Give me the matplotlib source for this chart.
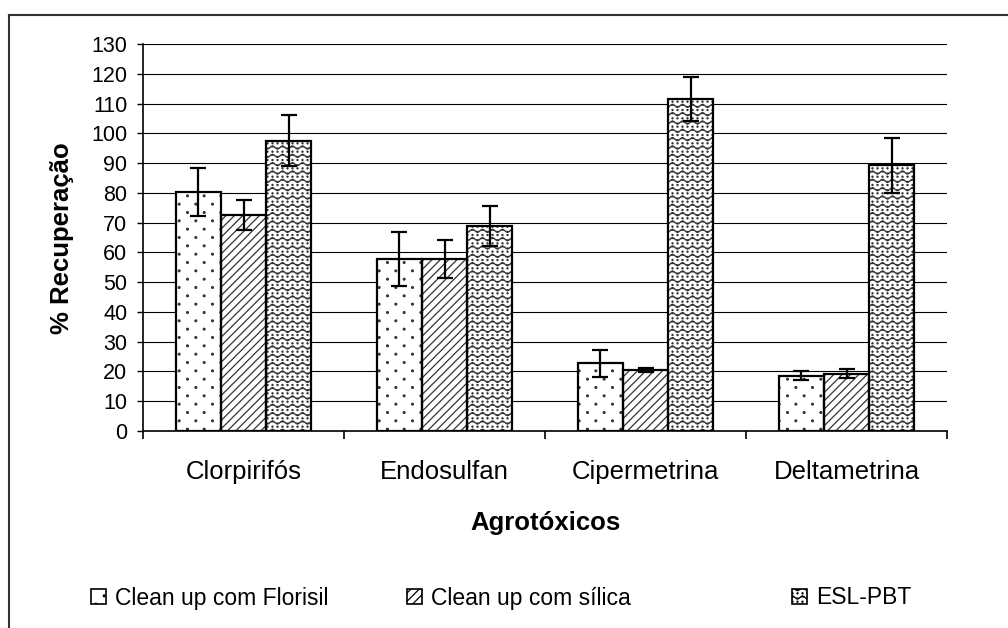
import warnings
import numpy as np
import matplotlib
matplotlib.use('Agg')
import matplotlib.pyplot as plt
import matplotlib.hatch as mhatch
from matplotlib.patches import Patch
from matplotlib.lines import Line2D
from matplotlib.path import Path

warnings.filterwarnings('ignore')

# data
categories = ['Clorpirifós', 'Endosulfan', 'Cipermetrina', 'Deltametrina']
series = ['Clean up com Florisil', 'Clean up com sílica', 'ESL-PBT']
florisil = [80.3, 57.7, 22.7, 18.5]
florisil_err = [8.0, 9.0, 4.5, 1.5]
silica = [72.5, 57.7, 20.5, 19.3]
silica_err = [5.0, 6.4, 0.7, 1.5]
esl = [97.5, 68.9, 111.6, 89.3]
esl_err = [8.5, 6.8, 7.3, 9.2]
yticks = list(range(0, 131, 10))

circ = Path.unit_circle()


def dot_block(centers, r):
    # filled little circles for a hatch tile
    v = np.concatenate([circ.vertices * r + c for c in centers])
    c = np.concatenate([circ.codes for _ in centers])
    return v, c


class SparseDots(mhatch.HatchPatternBase):
    # staggered dots, ':' in a hatch string
    def __init__(self, hatch, density):
        self.ncol = hatch.count(':') * density
        self.nrow = 2 * self.ncol
        self.num_vertices = self.ncol * self.nrow * len(circ.vertices)

    def set_vertices_and_codes(self, vertices, codes):
        cen = []
        for i in range(self.nrow):
            for j in range(self.ncol):
                cen.append(((j + 0.25 + 0.5 * (i % 2)) / self.ncol, (i + 0.5) / self.nrow))
        v, c = dot_block(cen, 0.009)
        vertices[:] = v
        codes[:] = c


class WaveHatch(mhatch.HatchPatternBase):
    # wavy lines with dotted rows between, '~' in a hatch string
    def __init__(self, hatch, density):
        self.num_rows = hatch.count('~') * density
        self.n_seg = 80
        self.n_dot = 20
        self.num_vertices = self.num_rows * (self.n_seg + 1) + self.num_rows * self.n_dot * len(circ.vertices)

    def set_vertices_and_codes(self, vertices, codes):
        t = np.linspace(0, 1, self.n_seg + 1)
        w = 0.016 * np.sin(2 * np.pi * 10 * t)
        n = self.n_seg + 1
        for i in range(self.num_rows):
            y0 = (i + 0.3) / self.num_rows
            vertices[i*n:(i+1)*n, 0] = t
            vertices[i*n:(i+1)*n, 1] = y0 + w
            codes[i*n:(i+1)*n] = Path.LINETO
            codes[i*n] = Path.MOVETO
        cen = [((j + 0.5) / self.n_dot, (i + 0.8) / self.num_rows)
               for i in range(self.num_rows) for j in range(self.n_dot)]
        v, c = dot_block(cen, 0.0055)
        vertices[self.num_rows*n:] = v
        codes[self.num_rows*n:] = c


mhatch._hatch_types.append(SparseDots)
mhatch._hatch_types.append(WaveHatch)

plt.rcParams['font.family'] = ['Liberation Sans', 'DejaVu Sans']
plt.rcParams['hatch.linewidth'] = 0.9

fig = plt.figure(figsize=(10.08, 6.28), dpi=100)
ax = fig.add_axes([143/1008, 1-431/628, 804/1008, 387/628])

x = np.arange(len(categories))
w = 0.224
hatches = [':', '////', '~~']
vals = [florisil, silica, esl]
errs = [florisil_err, silica_err, esl_err]
for k in range(3):
    xs = x + (k - 1) * w
    ax.bar(xs, vals[k], w, color='white', edgecolor='#333333', hatch=hatches[k], linewidth=0, zorder=2)
    ax.bar(xs, vals[k], w, fill=False, edgecolor='black', linewidth=1.6, zorder=3)
    ax.errorbar(xs, vals[k], yerr=errs[k], fmt='none', ecolor='black', elinewidth=1.6,
                capsize=6, capthick=1.6, zorder=4)

ax.set_xlim(-0.5, len(categories) - 0.5)
ax.set_ylim(0, 130)
ax.set_yticks(yticks)
ax.yaxis.grid(True, color='black', linewidth=0.8)
ax.set_axisbelow(True)
ax.set_xticks(x)
ax.set_xticklabels(categories, fontsize=18.5)
ax.set_xticks(np.arange(-0.5, len(categories), 1.0), minor=True)
ax.tick_params(axis='x', which='major', length=0, pad=21)
ax.tick_params(axis='x', which='minor', length=6, width=1.2, direction='out')
ax.tick_params(axis='y', length=4.3, width=1, direction='out', labelsize=15.5, pad=7)
for s in ['top', 'right']:
    ax.spines[s].set_visible(False)
for s in ['left', 'bottom']:
    ax.spines[s].set_linewidth(1.2)

fig.text(62/1008, 1-238/628, '% Recuperação', rotation=90, ha='center', va='center',
         fontsize=18.5, fontweight='bold')
fig.text(545/1008, 1-523/628, 'Agrotóxicos', ha='center', va='center',
         fontsize=18.5, fontweight='bold')

# legend, one entry at a time
leg_x = [91, 407, 792]
for k in range(3):
    h = Patch(facecolor='white', edgecolor='black', hatch=hatches[k], linewidth=1.2)
    fig.legend([h], [series[k]], loc='center left', bbox_to_anchor=(leg_x[k]/1008, 1-598/628),
               frameon=False, fontsize=16.5, handlelength=0.65, handleheight=0.65,
               handletextpad=0.4, borderpad=0, borderaxespad=0)

# outer frame
fig.add_artist(Line2D([9/1008, 9/1008], [0, 1-15/628], transform=fig.transFigure, color='#333333', linewidth=1.5))
fig.add_artist(Line2D([9/1008, 1], [1-15/628, 1-15/628], transform=fig.transFigure, color='#333333', linewidth=1.5))

fig.savefig('out.png', dpi=100)
